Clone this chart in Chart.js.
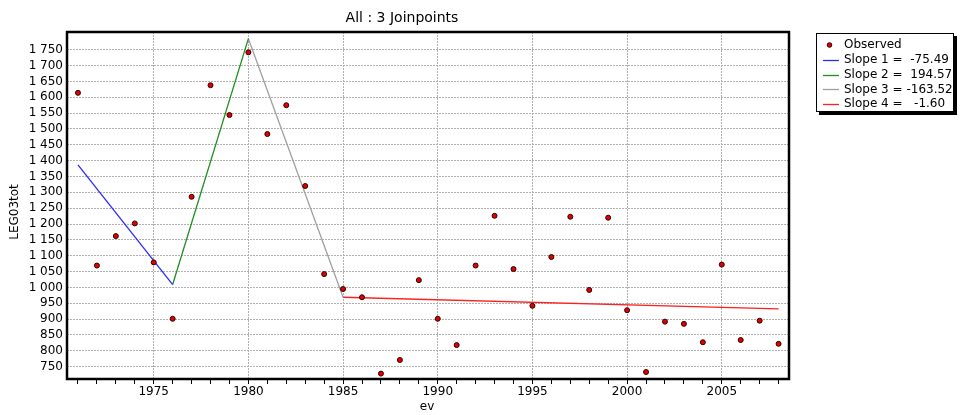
<!DOCTYPE html>
<html>
<head>
<meta charset="utf-8">
<script src="https://cdn.jsdelivr.net/npm/chart.js@4.4.1/dist/chart.umd.min.js"></script>
<style>
  body { margin: 0; background: #fff; }
  canvas { display: block; }
</style>
</head>
<body>
<canvas id="chart" width="960" height="415"></canvas>
<script>
const years = [1971, 1972, 1973, 1974, 1975, 1976, 1977, 1978, 1979, 1980,
  1981, 1982, 1983, 1984, 1985, 1986, 1987, 1988, 1989, 1990,
  1991, 1992, 1993, 1994, 1995, 1996, 1997, 1998, 1999, 2000,
  2001, 2002, 2003, 2004, 2005, 2006, 2007, 2008];
const observed = [1614, 1069, 1162, 1202, 1079, 901, 1286, 1638, 1544, 1742,
  1484, 1575, 1320, 1042, 995, 969, 728, 771, 1023, 901,
  818, 1069, 1226, 1058, 942, 1096, 1223, 992, 1220, 928,
  733, 892, 885, 827, 1072, 834, 895, 822];

// joinpoint model: segment ends and fitted values
const joinYears = [1971, 1976, 1980, 1985, 2008];
const fitted = [1387, 1009, 1785, 969, 932];
const segmentLabels = ["Slope 1 =  -75.49", "Slope 2 =  194.57", "Slope 3 = -163.52", "Slope 4 =   -1.60"];
const segmentColors = ["#2a2aff", "#1f8f1f", "#a0a0a0", "#ff2020"];

const chartTitle = "All : 3 Joinpoints";
const xTitle = "ev";
const yTitle = "LEG03tot";

Chart.defaults.font.family = "'DejaVu Sans', sans-serif";
Chart.defaults.font.size = 12;
Chart.defaults.color = "#000";

const datasets = [{
  label: "Observed",
  data: years.map((y, i) => ({ x: y, y: observed[i] })),
  pointRadius: 2.5,
  pointBackgroundColor: "#e00000",
  pointBorderColor: "#300000",
  pointBorderWidth: 1,
  showLine: false
}];
segmentLabels.forEach((label, i) => {
  datasets.push({
    label: label,
    data: [{ x: joinYears[i], y: fitted[i] }, { x: joinYears[i + 1], y: fitted[i + 1] }],
    showLine: true,
    borderColor: segmentColors[i],
    borderWidth: 1.3,
    pointRadius: 0
  });
});

const thousands = (v) => v >= 1000 ? Math.floor(v / 1000) + " " + String(v % 1000).padStart(3, "0") : String(v);

const decorations = {
  id: "decorations",
  afterDraw(chart) {
    const ctx = chart.ctx;
    const a = chart.chartArea;
    ctx.save();
    // plot frame
    ctx.strokeStyle = "#000";
    ctx.lineWidth = 2.5;
    ctx.strokeRect(a.left, a.top, a.right - a.left, a.bottom - a.top);

    ctx.fillStyle = "#000";
    ctx.textBaseline = "middle";
    ctx.textAlign = "center";
    ctx.font = "14px 'DejaVu Sans', sans-serif";
    ctx.fillText(chartTitle, 402, 18);
    ctx.font = "12px 'DejaVu Sans', sans-serif";
    ctx.fillText(xTitle, 427, 407);
    ctx.save();
    ctx.translate(15, 212);
    ctx.rotate(-Math.PI / 2);
    ctx.fillText(yTitle, 0, 0);
    ctx.restore();

    // legend box with shadow
    const bx = 816, by = 33, bw = 138, bh = 79;
    ctx.fillStyle = "#000";
    ctx.fillRect(bx + 3, by + 3, bw, bh);
    ctx.fillStyle = "#fff";
    ctx.fillRect(bx, by, bw, bh);
    ctx.lineWidth = 1;
    ctx.strokeStyle = "#000";
    ctx.strokeRect(bx + 0.5, by + 0.5, bw - 1, bh - 1);

    ctx.textAlign = "left";
    chart.data.datasets.forEach((ds, i) => {
      const y = 45 + i * 14.8;
      if (i === 0) {
        ctx.beginPath();
        ctx.arc(829.5, y, 2.3, 0, Math.PI * 2);
        ctx.fillStyle = "#e00000";
        ctx.fill();
        ctx.strokeStyle = "#300000";
        ctx.stroke();
      } else {
        ctx.beginPath();
        ctx.moveTo(823, Math.round(y) + 0.5);
        ctx.lineTo(839, Math.round(y) + 0.5);
        ctx.strokeStyle = ds.borderColor;
        ctx.lineWidth = 1.3;
        ctx.stroke();
      }
      ctx.fillStyle = "#000";
      ctx.fillText(ds.label, 844, y);
    });
    ctx.restore();
  }
};

new Chart(document.getElementById("chart"), {
  type: "scatter",
  data: { datasets },
  options: {
    responsive: false,
    animation: false,
    layout: { padding: { left: 0, top: 32, right: 171, bottom: 0 } },
    plugins: {
      legend: { display: false },
      title: { display: false },
      tooltip: { enabled: false }
    },
    scales: {
      x: {
        type: "linear",
        min: 1970.42,
        max: 2008.55,
        afterFit: (s) => { s.height = 36; },
        afterBuildTicks: (s) => { s.ticks = s.ticks.filter(t => Number.isInteger(t.value)); },
        ticks: {
          stepSize: 1,
          autoSkip: false,
          maxRotation: 0,
          includeBounds: false,
          padding: 1,
          callback: (v) => v % 5 === 0 ? String(v) : ""
        },
        grid: {
          color: (c) => c.tick && c.tick.value % 5 === 0 ? "#b0b0b0" : "rgba(0,0,0,0)",
          tickColor: "#000",
          tickLength: 5,
          lineWidth: 1
        },
        border: { display: false, dash: [2, 1] }
      },
      y: {
        min: 711,
        max: 1806,
        afterFit: (s) => { s.width = 67; },
        afterBuildTicks: (s) => { s.ticks = s.ticks.filter(t => t.value % 50 === 0 && t.value <= 1750); },
        ticks: {
          stepSize: 50,
          autoSkip: false,
          includeBounds: false,
          padding: 4,
          callback: (v) => thousands(v)
        },
        grid: {
          color: "#b0b0b0",
          drawTicks: false,
          lineWidth: 1
        },
        border: { display: false, dash: [2, 1] }
      }
    }
  },
  plugins: [decorations]
});
</script>
</body>
</html>
